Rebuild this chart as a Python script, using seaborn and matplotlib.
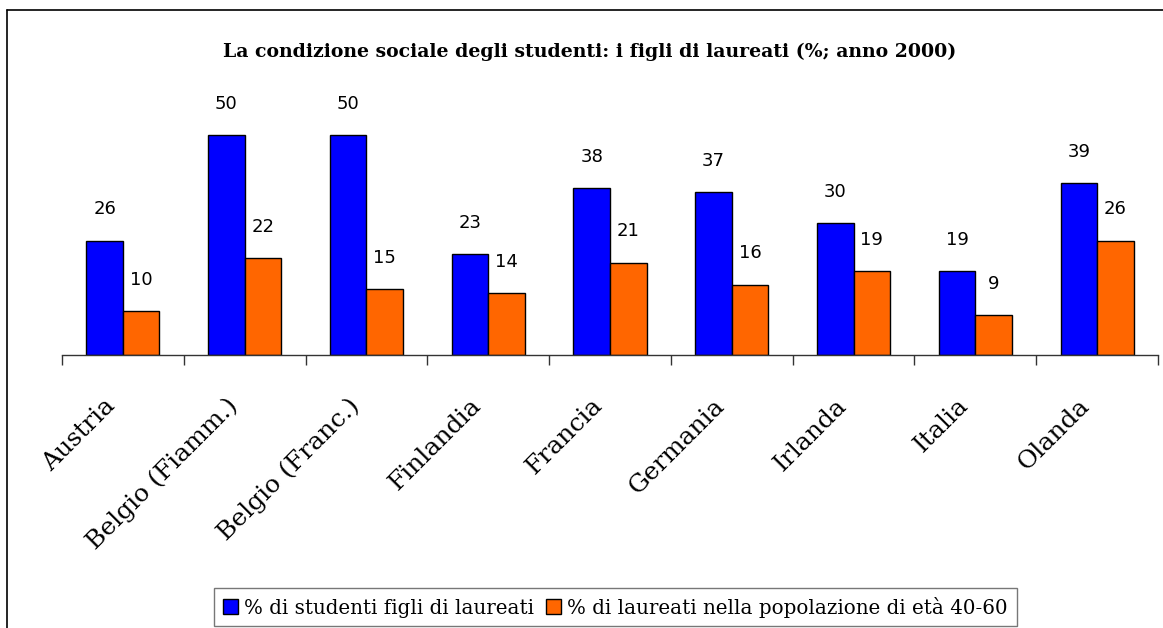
import matplotlib
matplotlib.use("Agg")
import matplotlib.pyplot as plt
import matplotlib.transforms as mtransforms
import seaborn as sns
import pandas as pd
from matplotlib.lines import Line2D

countries = ["Austria", "Belgio (Fiamm.)", "Belgio (Franc.)", "Finlandia", "Francia",
             "Germania", "Irlanda", "Italia", "Olanda"]
studenti = [26, 50, 50, 23, 38, 37, 30, 19, 39]
popolazione = [10, 22, 15, 14, 21, 16, 19, 9, 26]
series_names = ["% di studenti figli di laureati",
                "% di laureati nella popolazione di età 40-60"]
title = "La condizione sociale degli studenti: i figli di laureati (%; anno 2000)"

df = pd.DataFrame({
    "paese": countries * 2,
    "valore": studenti + popolazione,
    "serie": [series_names[0]] * len(countries) + [series_names[1]] * len(countries),
})

sns.set_style("white")
plt.rcParams["font.family"] = ["DejaVu Serif"]
plt.rcParams["text.color"] = "black"
plt.rcParams["xtick.color"] = "black"

W, H = 1163, 628
fig = plt.figure(figsize=(W / 100, H / 100), dpi=100)
ax_left, ax_right, ax_bottom, ax_top = 62, 1158, 355, 80
ax = fig.add_axes([ax_left / W, 1 - ax_bottom / H, (ax_right - ax_left) / W, (ax_bottom - ax_top) / H])

sns.barplot(data=df, x="paese", y="valore", hue="serie", ax=ax,
            palette=["#0000FF", "#FF6600"], width=0.6, gap=0,
            edgecolor="black", linewidth=1, saturation=1, legend=False)

for cont in ax.containers:
    ax.bar_label(cont, labels=[f"{v:.0f}" for v in cont.datavalues], padding=16,
                 fontsize=13, color="black", family="DejaVu Sans")

ax.set_ylim(0, 62.5)
ax.set_xlim(-0.5, len(countries) - 0.5)
ax.set_yticks([])
ax.set_ylabel("")
ax.set_xlabel("")
for s in ["left", "right", "top"]:
    ax.spines[s].set_visible(False)
ax.spines["bottom"].set_color("#333333")
ax.spines["bottom"].set_linewidth(1)

ax.set_xticks([i - 0.5 for i in range(len(countries) + 1)])
ax.set_xticklabels([])
ax.tick_params(axis="x", which="major", direction="out", length=7, width=1, color="#333333", bottom=True)
ax.set_xticks(range(len(countries)), minor=True)
ax.set_xticklabels(countries, minor=True, rotation=45, ha="right", va="top",
                   rotation_mode="anchor", fontsize=18, color="black")
ax.tick_params(axis="x", which="minor", length=0, pad=28)
shift = mtransforms.ScaledTranslation(-0.19, 0, fig.dpi_scale_trans)
for lbl in ax.get_xticklabels(minor=True):
    lbl.set_transform(lbl.get_transform() + shift)

fig.text(0.5 * (218 + 962) / W, 1 - 52 / H, title, ha="center", va="center",
         fontsize=13.6, fontweight="bold", color="black")

handles = [plt.Rectangle((0, 0), 1, 1, facecolor=c, edgecolor="black", linewidth=1)
           for c in ["#0000FF", "#FF6600"]]
leg = fig.legend(handles, series_names, ncol=2, loc="center",
                 bbox_to_anchor=((211 + 1020) / 2 / W, 1 - 607 / H),
                 frameon=True, fancybox=False, fontsize=14.3,
                 handlelength=0.75, handleheight=0.75, handletextpad=0.3,
                 columnspacing=0.6, borderpad=0.45, borderaxespad=0)
leg.get_frame().set_edgecolor("#555555")
leg.get_frame().set_linewidth(1)

fig.add_artist(Line2D([7 / W, 7 / W], [0, 1 - 10 / H], color="black", linewidth=1.2, transform=fig.transFigure))
fig.add_artist(Line2D([7 / W, 1], [1 - 10 / H, 1 - 10 / H], color="black", linewidth=1.2, transform=fig.transFigure))

fig.savefig("out.png", dpi=100)
